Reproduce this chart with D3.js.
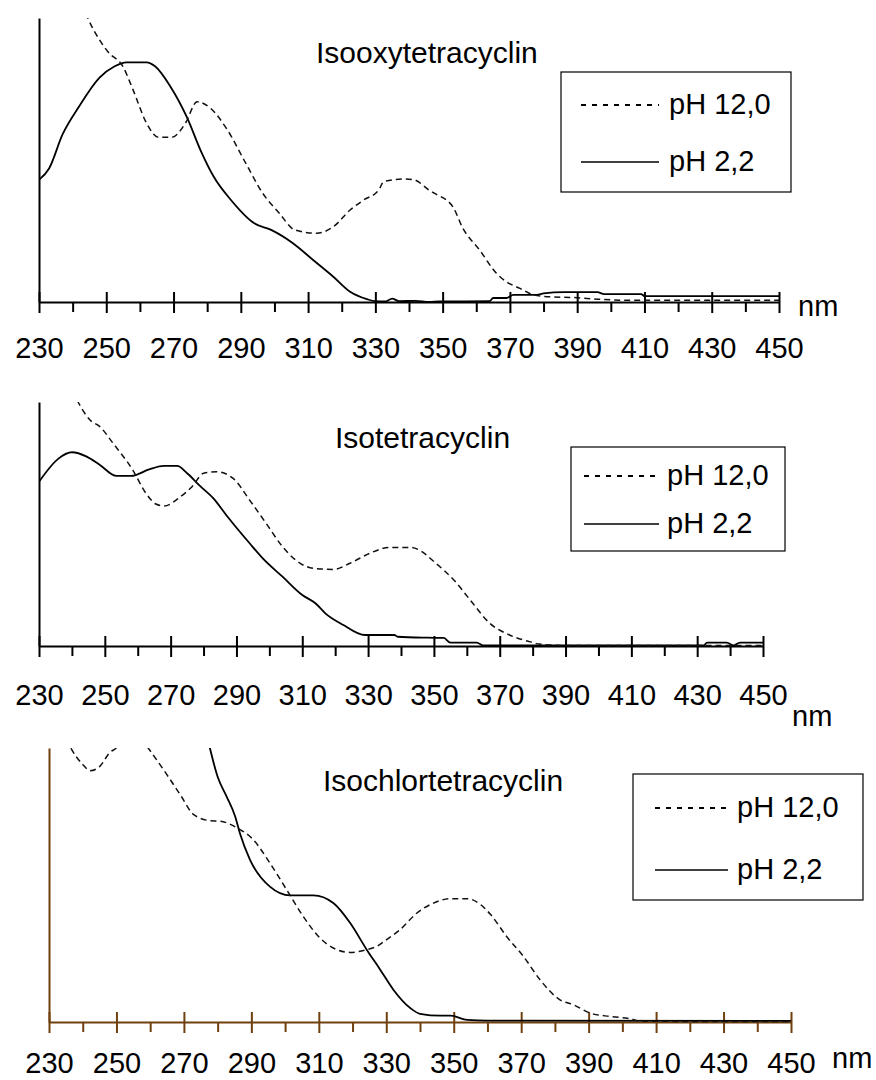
<!DOCTYPE html>
<html>
<head>
<meta charset="utf-8">
<script src="https://cdn.jsdelivr.net/npm/d3@7"></script>
<style>
  html, body { margin: 0; padding: 0; background: #fff; }
  svg { display: block; font-family: "Liberation Sans", Arial, sans-serif; }
</style>
</head>
<body>
<svg id="chart" width="876" height="1080"></svg>
<script>
// Wavelength axis (nm)
const majorTicks = [230, 250, 270, 290, 310, 330, 350, 370, 390, 410, 430, 450];
const minorTicks = [240, 260, 280, 300, 320, 340, 360, 380, 400, 420, 440];
const legendLabels = ["pH 12,0", "pH 2,2"];
const compoundNames = ["Isooxytetracyclin", "Isotetracyclin", "Isochlortetracyclin"];

// Relative absorbance, [wavelength nm, A] — Isooxytetracyclin
const isooxyPH12 = [[240,1.15],[244.5,1.0],[248,0.923],[250.5,0.881],[255,0.828],[258,0.746],[262,0.629],[265.5,0.58],[269.5,0.58],[273.5,0.629],[277,0.705],[281,0.682],[286,0.606],[291.5,0.488],[296.5,0.383],[301.5,0.312],[306,0.254],[312.5,0.242],[317.5,0.265],[322.5,0.324],[326.5,0.359],[331,0.394],[332.5,0.424],[338.5,0.433],[341.5,0.43],[346,0.394],[347.5,0.383],[353,0.336],[356,0.26],[361,0.183],[366,0.101],[369,0.071],[373,0.048],[377,0.025],[380,0.02],[390,0.015],[396,0.01],[405,0.006],[450,0.006]];
const isooxyPH22 = [[230,0.43],[233,0.47],[237,0.59],[242,0.69],[248,0.79],[252.5,0.83],[256,0.844],[262,0.844],[264.5,0.83],[269,0.76],[274,0.65],[278,0.535],[282,0.44],[287,0.36],[294,0.277],[299,0.254],[305.5,0.207],[311.5,0.148],[317.5,0.089],[322.5,0.036],[327.5,0.01],[330,0.003],[333,0.002],[335,0.012],[337,0.003],[342,0.004],[346,0.0],[349,0.002],[364,0.003],[365,0.014],[369,0.014],[371,0.025],[378,0.025],[380,0.03],[386,0.035],[396,0.035],[398,0.028],[409,0.028],[410,0.021],[450,0.021]];

// Isotetracyclin
const isotetraPH12 = [[238,1.12],[242,0.997],[245.5,0.926],[248.5,0.899],[252.5,0.831],[258.5,0.721],[262.5,0.626],[265.5,0.582],[268,0.574],[273,0.612],[276.5,0.653],[280,0.708],[284,0.714],[289,0.687],[294,0.598],[299,0.503],[304,0.407],[308,0.352],[313.5,0.318],[319.5,0.314],[324.5,0.339],[330.5,0.38],[336.5,0.404],[343,0.404],[346,0.39],[350,0.346],[356.5,0.264],[361,0.189],[367,0.093],[373,0.045],[379,0.018],[382,0.008],[390,0.002],[450,0.002]];
const isotetraPH22 = [[230,0.673],[236,0.769],[240,0.794],[244.5,0.776],[248.5,0.742],[253.5,0.697],[258,0.697],[263.5,0.724],[268,0.738],[272,0.738],[275,0.708],[279,0.655],[283,0.605],[287,0.535],[294,0.421],[298,0.359],[304,0.284],[310,0.209],[314,0.175],[317,0.134],[322.5,0.086],[329,0.045],[338,0.045],[339,0.038],[348,0.034],[353,0.033],[355,0.014],[363,0.014],[365,0.002],[432,0.002],[433,0.014],[439,0.014],[441,0.002],[443,0.014],[450,0.014]];

// Isochlortetracyclin
const isochlorPH12 = [[233,1.1],[236.7,0.995],[240,0.94],[242.2,0.917],[245,0.932],[248,0.983],[250,1.0],[254.5,1.08],[259.4,1.0],[265,0.902],[269.3,0.822],[272.8,0.758],[277.7,0.735],[280.7,0.733],[286,0.707],[290.6,0.665],[295.5,0.58],[300.5,0.482],[305.4,0.385],[310.4,0.306],[314.3,0.27],[319.3,0.254],[324.2,0.264],[327.2,0.276],[330,0.3],[334,0.336],[339,0.397],[344,0.434],[349,0.45],[354,0.45],[358,0.428],[361,0.391],[365.7,0.312],[370.7,0.239],[375.6,0.154],[381.5,0.081],[385.5,0.063],[390.4,0.033],[396.4,0.02],[402.3,0.012],[405.2,0.003],[428,0.002],[450,0.002]];
const isochlorPH22 = [[272,1.35],[277.7,1.0],[280,0.895],[282.7,0.822],[285.2,0.75],[286.6,0.689],[289.6,0.592],[295.5,0.494],[301.5,0.462],[308.4,0.462],[314.3,0.434],[319.3,0.361],[324.2,0.264],[328.2,0.191],[332.1,0.118],[337.1,0.051],[340,0.03],[346,0.023],[349,0.023],[354,0.008],[360,0.005],[450,0.004]];

// Panel layout
const panels = [
  { name: compoundNames[0], alkaline: isooxyPH12, acid: isooxyPH22,
    x0: 39, x1: 779, top: 18, base: 302, axisColor: "#000",
    title: [316, 63], labelBase: 358, nm: [798, 316],
    legend: { x: 561, y: 72, w: 230, h: 120, lx0: 581, lx1: 659, ty1: 105, ty2: 162, tx: 669 } },
  { name: compoundNames[1], alkaline: isotetraPH12, acid: isotetraPH22,
    x0: 39, x1: 763, top: 402, base: 646, axisColor: "#000",
    title: [335, 448], labelBase: 705, nm: [792, 726],
    legend: { x: 571, y: 447, w: 214, h: 104, lx0: 584, lx1: 659, ty1: 476, ty2: 524, tx: 667 } },
  { name: compoundNames[2], alkaline: isochlorPH12, acid: isochlorPH22,
    x0: 49, x1: 791, top: 748, base: 1022, axisColor: "#70400f",
    title: [323, 791], labelBase: 1073, nm: [832, 1068],
    legend: { x: 633, y: 774, w: 230, h: 126, lx0: 655, lx1: 728, ty1: 808, ty2: 870, tx: 737 } }
];

const svg = d3.select("#chart");
const FONT = 29;

panels.forEach((p, i) => {
  const x = d3.scaleLinear().domain([230, 450]).range([p.x0, p.x1]);
  const y = d3.scaleLinear().domain([0, 1]).range([p.base, p.top]);
  const g = svg.append("g");

  const clipId = "clip" + i;
  svg.append("defs").append("clipPath").attr("id", clipId)
    .append("rect").attr("x", p.x0).attr("y", p.top)
    .attr("width", p.x1 - p.x0 + 2).attr("height", p.base - p.top + 6);

  // minor ticks (below the axis only)
  g.append("g").attr("transform", `translate(0,${p.base})`)
    .call(d3.axisBottom(x).tickValues(minorTicks).tickSize(10).tickSizeOuter(0).tickFormat(""))
    .call(a => a.select(".domain").remove())
    .call(a => a.selectAll("line").attr("stroke", p.axisColor).attr("stroke-width", 2));

  // major ticks crossing the axis, with labels
  const major = g.append("g").attr("transform", `translate(0,${p.base})`)
    .call(d3.axisBottom(x).tickValues(majorTicks).tickSize(11).tickSizeOuter(0)
      .tickPadding(p.labelBase - p.base - 11 - FONT * 0.71));
  major.select(".domain").attr("stroke", p.axisColor).attr("stroke-width", 2);
  major.selectAll(".tick line").attr("y1", -10).attr("stroke", p.axisColor).attr("stroke-width", 2);
  major.selectAll(".tick text").attr("font-size", FONT).attr("fill", "#000")
    .attr("font-family", "Liberation Sans, Arial, sans-serif");

  // vertical axis line
  g.append("g").attr("transform", `translate(${p.x0},0)`)
    .call(d3.axisLeft(y).tickValues([]).tickSizeOuter(0))
    .call(a => a.select(".domain").attr("stroke", p.axisColor).attr("stroke-width", 2));

  const line = d3.line().x(d => x(d[0])).y(d => y(d[1])).curve(d3.curveMonotoneX);
  const curves = g.append("g").attr("clip-path", `url(#${clipId})`);
  curves.append("path").datum(p.acid).attr("d", line)
    .attr("fill", "none").attr("stroke", "#000").attr("stroke-width", 1.8);
  curves.append("path").datum(p.alkaline).attr("d", line)
    .attr("fill", "none").attr("stroke", "#111").attr("stroke-width", 1.5)
    .attr("stroke-dasharray", "6,4");

  // compound name
  g.append("text").attr("x", p.title[0]).attr("y", p.title[1])
    .attr("font-size", 30).text(p.name);

  // unit label
  g.append("text").attr("x", p.nm[0]).attr("y", p.nm[1])
    .attr("font-size", FONT).text("nm");

  // legend
  const L = p.legend;
  const lg = g.append("g");
  lg.append("rect").attr("x", L.x).attr("y", L.y).attr("width", L.w).attr("height", L.h)
    .attr("fill", "#fff").attr("stroke", "#000").attr("stroke-width", 1.2);
  lg.append("line").attr("x1", L.lx0).attr("x2", L.lx1).attr("y1", L.ty1).attr("y2", L.ty1)
    .attr("stroke", "#000").attr("stroke-width", 2).attr("stroke-dasharray", "5,6");
  lg.append("line").attr("x1", L.lx0).attr("x2", L.lx1).attr("y1", L.ty2).attr("y2", L.ty2)
    .attr("stroke", "#000").attr("stroke-width", 1.5);
  lg.append("text").attr("x", L.tx).attr("y", L.ty1 + 9).attr("font-size", FONT).text(legendLabels[0]);
  lg.append("text").attr("x", L.tx).attr("y", L.ty2 + 9).attr("font-size", FONT).text(legendLabels[1]);
});
</script>
</body>
</html>
